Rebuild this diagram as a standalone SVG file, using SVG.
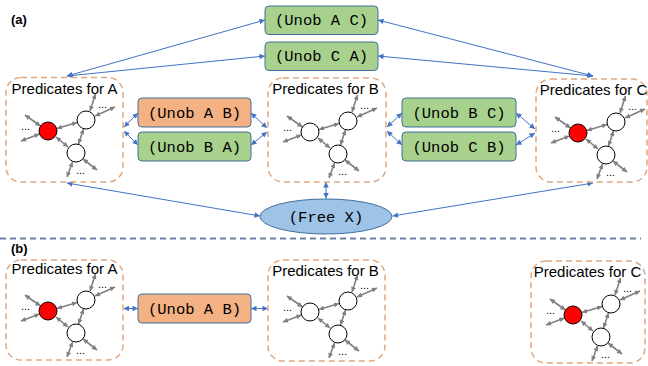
<svg xmlns="http://www.w3.org/2000/svg" xmlns:xlink="http://www.w3.org/1999/xlink" width="648" height="366" viewBox="0 0 648 366">
  <style>
    .pred { fill: none; stroke: #E0A881; stroke-width: 1.5; stroke-dasharray: 6 4; }
    .ptitle { font-family: "Liberation Sans", Arial, sans-serif; font-size: 15px; fill: #000; text-anchor: middle; }
    .dots { font-family: "Liberation Sans", Arial, sans-serif; font-size: 11px; fill: #000; text-anchor: middle; }
    .box { stroke: #41719C; stroke-width: 1; }
    .green { fill: #A9D18E; }
    .orange { fill: #F4B183; }
    .blue { fill: #9DC3E6; }
    .mono { font-family: "Liberation Mono", "Courier New", monospace; font-size: 15.5px; fill: #000; text-anchor: middle; }
    .lbl { font-family: "Liberation Sans", Arial, sans-serif; font-size: 13px; font-weight: bold; fill: #000; }
    .conn { fill: none; stroke: #4472C4; stroke-width: 1; marker-start: url(#arrB); marker-end: url(#arrB); }
    .garr { fill: none; stroke: #808080; stroke-width: 1.6; marker-start: url(#arrG); marker-end: url(#arrG); }
    .node { stroke: #000; stroke-width: 1; }
  </style>
  <defs>
    <marker id="arrB" viewBox="0 0 6 6" refX="6" refY="3" markerWidth="6" markerHeight="5.5" markerUnits="userSpaceOnUse" orient="auto-start-reverse">
      <path d="M0,0 L6,3 L0,6 z" fill="#4472C4"/>
    </marker>
    <marker id="arrG" viewBox="0 0 6 6" refX="6" refY="3" markerWidth="5.5" markerHeight="5" markerUnits="userSpaceOnUse" orient="auto-start-reverse">
      <path d="M0,0 L6,3 L0,6 z" fill="#808080"/>
    </marker>
    <!-- small predicate graph; the left node takes its fill from the <use> -->
    <g id="cluster">
      <line class="garr" x1="51" y1="51.5" x2="71" y2="45.5"/>
      <line class="garr" x1="50" y1="60" x2="62" y2="70"/>
      <line class="garr" x1="77.5" y1="52" x2="72.5" y2="67"/>
      <line class="garr" x1="34.5" y1="49" x2="19" y2="38"/>
      <line class="garr" x1="33.5" y1="57" x2="15" y2="64"/>
      <line class="garr" x1="84" y1="34" x2="89.5" y2="17"/>
      <line class="garr" x1="89" y1="39" x2="109" y2="30"/>
      <line class="garr" x1="66.5" y1="85" x2="61" y2="100"/>
      <line class="garr" x1="77" y1="82" x2="91" y2="93"/>
      <circle class="node" cx="42" cy="54" r="9"/>
      <circle class="node" cx="80" cy="43" r="9" fill="#fff"/>
      <circle class="node" cx="70" cy="76" r="9" fill="#fff"/>
      <text class="dots" x="19.5" y="53">...</text>
      <text class="dots" x="96.5" y="31">...</text>
      <text class="dots" x="74.5" y="97">...</text>
    </g>
  </defs>

  <rect width="648" height="366" fill="#fff"/>

  <!-- panel (a) -->
  <text class="lbl" x="11" y="24">(a)</text>

  <g id="connectors-a">
    <line class="conn" x1="67" y1="76" x2="265" y2="20"/>
    <line class="conn" x1="67" y1="76" x2="265" y2="56"/>
    <line class="conn" x1="593" y1="76" x2="378" y2="20"/>
    <line class="conn" x1="593" y1="76" x2="378" y2="56"/>
    <line class="conn" x1="124" y1="127" x2="138" y2="113"/>
    <line class="conn" x1="124" y1="131" x2="138" y2="145"/>
    <line class="conn" x1="251" y1="113" x2="267" y2="128"/>
    <line class="conn" x1="251" y1="145" x2="267" y2="132"/>
    <line class="conn" x1="387" y1="127" x2="402" y2="113"/>
    <line class="conn" x1="387" y1="131" x2="402" y2="145"/>
    <line class="conn" x1="516" y1="113" x2="535" y2="129"/>
    <line class="conn" x1="516" y1="145" x2="535" y2="133"/>
    <line class="conn" x1="326" y1="182" x2="326" y2="198.5"/>
    <line class="conn" x1="67" y1="183" x2="260" y2="216"/>
    <line class="conn" x1="593" y1="183" x2="392.5" y2="216"/>
  </g>

  <g id="predA">
    <rect class="pred" x="6" y="77.5" width="117" height="104.5" rx="15"/>
    <text class="ptitle" x="64.5" y="94">Predicates for A</text>
    <use xlink:href="#cluster" x="6" y="77" fill="#FF0000"/>
  </g>
  <g id="predB">
    <rect class="pred" x="268" y="78" width="118" height="104" rx="15"/>
    <text class="ptitle" x="325.5" y="94">Predicates for B</text>
    <use xlink:href="#cluster" x="268" y="78" fill="#fff"/>
  </g>
  <g id="predC">
    <rect class="pred" x="536" y="79" width="111" height="103" rx="15"/>
    <text class="ptitle" x="593.5" y="95">Predicates for C</text>
    <use xlink:href="#cluster" x="536" y="79" fill="#FF0000"/>
  </g>

  <g id="unobAC">
    <rect class="box green" x="265" y="6" width="113" height="28.5" rx="4"/>
    <text class="mono" x="321.5" y="25">(Unob A C)</text>
  </g>
  <g id="unobCA">
    <rect class="box green" x="265" y="42" width="113" height="28.5" rx="4"/>
    <text class="mono" x="321.5" y="61">(Unob C A)</text>
  </g>
  <g id="unobAB">
    <rect class="box orange" x="138" y="98" width="113" height="29" rx="4"/>
    <text class="mono" x="194.5" y="117.5">(Unob A B)</text>
  </g>
  <g id="unobBA">
    <rect class="box green" x="138" y="132" width="113" height="29" rx="4"/>
    <text class="mono" x="194.5" y="151.5">(Unob B A)</text>
  </g>
  <g id="unobBC">
    <rect class="box green" x="402" y="98" width="114" height="29" rx="4"/>
    <text class="mono" x="459" y="117.5">(Unob B C)</text>
  </g>
  <g id="unobCB">
    <rect class="box green" x="402" y="132" width="114" height="29" rx="4"/>
    <text class="mono" x="459" y="151.5">(Unob C B)</text>
  </g>
  <g id="freeX">
    <ellipse class="box blue" cx="326" cy="216.5" rx="66" ry="17.5"/>
    <text class="mono" x="326" y="221.5">(Free X)</text>
  </g>

  <!-- divider -->
  <line x1="0" y1="238.5" x2="641" y2="238.5" stroke="#6D7FA6" stroke-width="2" stroke-dasharray="6 4"/>

  <!-- panel (b) -->
  <text class="lbl" x="11" y="253">(b)</text>

  <g id="connectors-b">
    <line class="conn" x1="123.5" y1="308.5" x2="138" y2="308.5"/>
    <line class="conn" x1="251" y1="308.5" x2="268" y2="308.5"/>
  </g>

  <g id="predA-b">
    <rect class="pred" x="6" y="260" width="117" height="100" rx="15"/>
    <text class="ptitle" x="64.5" y="274">Predicates for A</text>
    <use xlink:href="#cluster" x="6" y="257" fill="#FF0000"/>
  </g>
  <g id="unobAB-b">
    <rect class="box orange" x="138" y="294" width="113" height="29" rx="4"/>
    <text class="mono" x="194.5" y="313.5">(Unob A B)</text>
  </g>
  <g id="predB-b">
    <rect class="pred" x="268" y="260" width="117" height="101" rx="15"/>
    <text class="ptitle" x="325.5" y="276">Predicates for B</text>
    <use xlink:href="#cluster" x="268" y="258" fill="#fff"/>
  </g>
  <g id="predC-b">
    <rect class="pred" x="531" y="261" width="114" height="102" rx="15"/>
    <text class="ptitle" x="587.5" y="277">Predicates for C</text>
    <use xlink:href="#cluster" x="531" y="261" fill="#FF0000"/>
  </g>
</svg>
